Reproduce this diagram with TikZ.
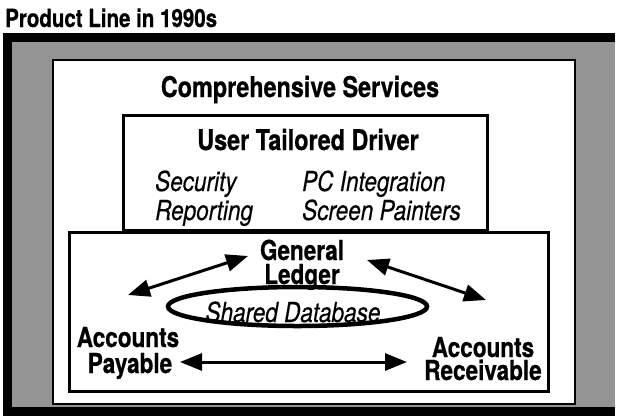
\documentclass[tikz,border=0pt]{standalone}
\usepackage{fontspec}
\setmainfont{TeX Gyre Heros}[FakeStretch=0.82, BoldFeatures={FakeBold=0.6}, ItalicFeatures={FakeBold=0.4}]
\usetikzlibrary{arrows.meta}
\tikzset{
  title/.style={font=\bfseries\fontsize{25}{25}\selectfont, inner sep=0pt},
  head/.style={font=\bfseries\fontsize{28.5}{28.5}\selectfont, inner sep=0pt},
  lbl/.style={font=\bfseries\fontsize{27.5}{27.5}\selectfont, inner sep=0pt, text height=17pt, text depth=0pt},
  itl/.style={font=\itshape\fontsize{27.5}{27.5}\selectfont, inner sep=0pt},
  boxline/.style={draw=black, line width=3pt},
  dblarrow/.style={line width=3pt, {Triangle[length=22pt,width=17pt]}-{Triangle[length=22pt,width=17pt]}},
  hatch/.style={fill=black!42},
}
\begin{document}
\begin{tikzpicture}[x=1pt,y=-1pt]
\useasboundingbox (0,0) rectangle (620,416);
% frame
\fill[black] (3,33) rectangle (615,416);
\fill[hatch] (12,42) rectangle (615,407);
\draw[fill=white, line width=2.5pt] (53,60) rectangle (575,404);
% title
\node[title, anchor=base west] (ttl) at (5,27) {Product Line in 1990s};
\node[head, anchor=base] (cs) at (300,97) {Comprehensive Services};
% upper box
\draw[boxline, fill=white] (123,115) rectangle (487,230);
\node[head, anchor=base] (utd) at (308,150) {User Tailored Driver};
\node[itl, anchor=base west] (sec) at (155,191) {Security};
\node[itl, anchor=base west] (rep) at (155,220) {Reporting};
\node[itl, anchor=base west] (pci) at (302,191) {PC Integration};
\node[itl, anchor=base west] (scp) at (302,220) {Screen Painters};
% lower box
\draw[boxline, fill=white] (69,232) rectangle (548,391);
\node[lbl, anchor=base] (gl1) at (302,260) {General};
\node[lbl, anchor=base] (gl2) at (302,284) {Ledger};
\draw[line width=4.5pt] (297.5,306.5) ellipse [x radius=129.5, y radius=19.5];
\node[itl, anchor=base] (sdb) at (293,322) {Shared Database};
\node[lbl, anchor=base] (ap1) at (128,347) {Accounts};
\node[lbl, anchor=base] (ap2) at (130,373) {Payable};
\node[lbl, anchor=base] (ar1) at (483,357) {Accounts};
\node[lbl, anchor=base] (ar2) at (483,380) {Receivable};
% arrow ends
\coordinate (a1s) at (128,295);
\coordinate (a1e) at (248,256);
\coordinate (a2s) at (367,260);
\coordinate (a2e) at (486,300);
\coordinate (a3s) at (180,362);
\coordinate (a3e) at (407,362);
\draw[dblarrow] (a1s) -- (a1e);
\draw[dblarrow] (a2s) -- (a2e);
\draw[dblarrow] (a3s) -- (a3e);
\end{tikzpicture}
\end{document}
